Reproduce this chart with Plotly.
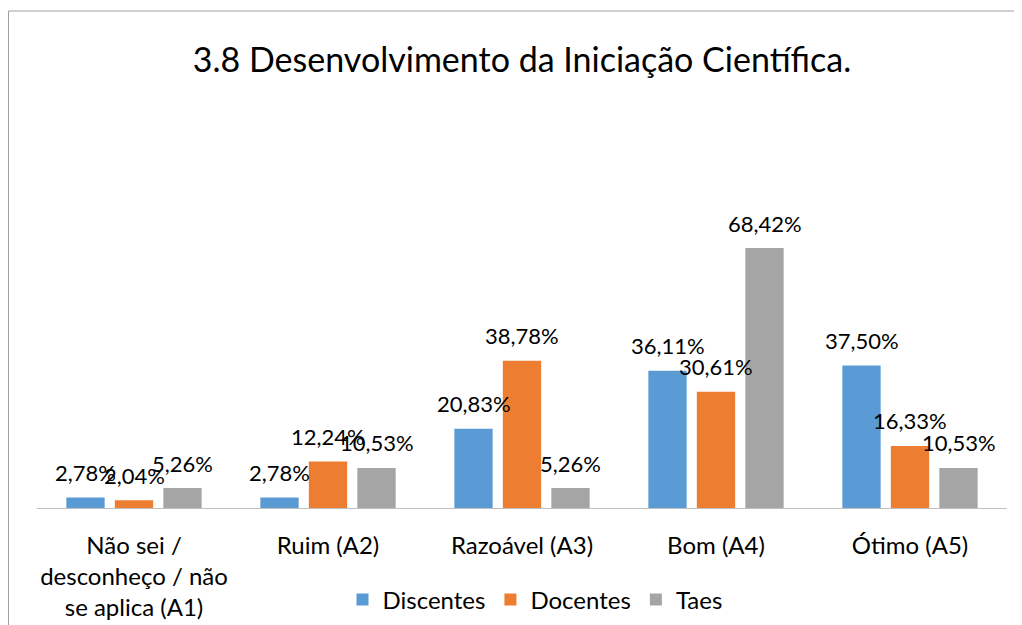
import plotly.graph_objects as go

categories = ["Não sei /<br>desconheço / não<br>se aplica (A1)", "Ruim (A2)", "Razoável (A3)", "Bom (A4)", "Ótimo (A5)"]
series_names = ["Discentes", "Docentes", "Taes"]
discentes = [2.78, 2.78, 20.83, 36.11, 37.50]
docentes = [2.04, 12.24, 38.78, 30.61, 16.33]
taes = [5.26, 10.53, 5.26, 68.42, 10.53]
colors = ["#5B9BD5", "#ED7D31", "#A5A5A5"]
title = "3.8 Desenvolvimento da Iniciação Científica."

FONT = "Lato, Carlito, Calibri, sans-serif"
OFF = 8  # page body margin
W, H = 1022 - OFF, 625 - OFF
L, R, T, B = 37 - OFF, 15, 204 - OFF, 117
pw, ph = W - L - R, H - T - B

series = [discentes, docentes, taes]
xs = list(range(len(categories)))
bargap = 0.25
slot = (1 - bargap) / len(series)

fig = go.Figure()
annotations = []
for j, (name, vals, col) in enumerate(zip(series_names, series, colors)):
    fig.add_trace(go.Bar(x=xs, y=vals, name=name, marker=dict(color=col, line=dict(width=0))))
    for i, v in enumerate(vals):
        annotations.append(dict(
            x=i + (j - (len(series) - 1) / 2) * slot, y=v, xref="x", yref="y",
            text=f"{v:.2f}".replace(".", ",") + "%", showarrow=False,
            yanchor="middle", xanchor="center", yshift=25,
            font=dict(family=FONT, size=22, color="#000000")))

fig.update_layout(
    width=W, height=H,
    margin=dict(l=L, r=R, t=T, b=B, autoexpand=False),
    paper_bgcolor="white", plot_bgcolor="white",
    barmode="group", bargap=bargap, bargroupgap=0.21,
    font=dict(family=FONT, size=24, color="#000000"),
    title=dict(text=title, x=0.5, xref="paper", xanchor="center",
               y=1 - (60 - OFF) / H, yref="container", yanchor="middle",
               font=dict(family=FONT, size=34, color="#000000")),
    xaxis=dict(tickmode="array", tickvals=xs, ticktext=categories, range=[-0.5, len(categories) - 0.5],
               showline=True, linecolor="#BFBFBF", linewidth=1, showgrid=False, zeroline=False,
               ticks="", ticklabelstandoff=16,
               tickfont=dict(family=FONT, size=24, color="#000000")),
    yaxis=dict(range=[0, 80], visible=False, showgrid=False, zeroline=False),
    showlegend=True,
    legend=dict(orientation="h", x=(535 - 37) / pw, xanchor="center",
                y=(508 - 600) / ph, yanchor="middle", yref="paper",
                font=dict(family=FONT, size=24, color="#000000"), itemwidth=30,
                bgcolor="rgba(0,0,0,0)"),
    annotations=annotations,
    shapes=[dict(type="rect", xref="paper", yref="paper",
                 x0=(8.5 - 37) / pw, x1=(1050 - 37) / pw,
                 y0=(508 - 650) / ph, y1=(508 - 11) / ph,
                 line=dict(color="#A0A0A0", width=1), fillcolor="rgba(0,0,0,0)", layer="above")],
)

fig.write_html("out.html")
